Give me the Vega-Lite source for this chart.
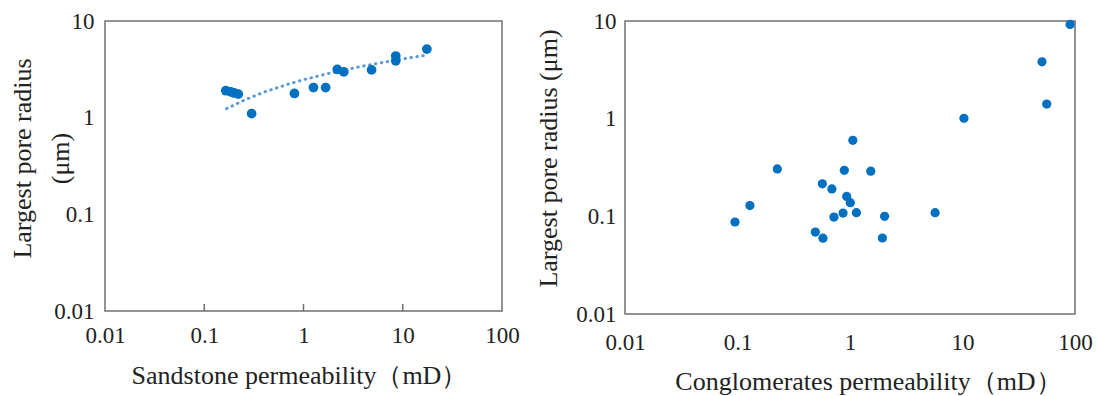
{
  "$schema": "https://vega.github.io/schema/vega-lite/v6.json",
  "background": "white",
  "padding": {"left": 9, "top": 9, "right": 0, "bottom": 0},
  "spacing": 14,
  "config": {
    "view": {"stroke": "#707070", "strokeWidth": 1.5},
    "axis": {
      "grid": false, "domain": false, "ticks": false,
      "labelFont": "'Liberation Serif', 'Times New Roman', 'DejaVu Serif', serif", "labelFontSize": 23, "labelColor": "#222",
      "titleFont": "'Liberation Serif', 'Times New Roman', 'DejaVu Serif', serif", "titleFontSize": 26, "titleFontWeight": "normal", "titleColor": "#222",
      "labelFlush": false, "labelOverlap": false
    }
  },
  "datasets": {
    "sandstone": [
      {"permeability": 0.165, "radius": 1.9},
      {"permeability": 0.185, "radius": 1.85},
      {"permeability": 0.2, "radius": 1.8},
      {"permeability": 0.22, "radius": 1.75},
      {"permeability": 0.3, "radius": 1.1},
      {"permeability": 0.81, "radius": 1.78},
      {"permeability": 1.26, "radius": 2.05},
      {"permeability": 1.67, "radius": 2.05},
      {"permeability": 2.19, "radius": 3.15},
      {"permeability": 2.55, "radius": 2.98},
      {"permeability": 4.85, "radius": 3.12},
      {"permeability": 8.5, "radius": 4.34},
      {"permeability": 8.5, "radius": 3.87},
      {"permeability": 17.5, "radius": 5.12}
    ],
    "sandstone_trend": [
      {"permeability": 0.168, "radius": 1.24},
      {"permeability": 0.25, "radius": 1.51},
      {"permeability": 0.4, "radius": 1.84},
      {"permeability": 0.7, "radius": 2.22},
      {"permeability": 1, "radius": 2.47},
      {"permeability": 2, "radius": 2.95},
      {"permeability": 4, "radius": 3.42},
      {"permeability": 8, "radius": 3.9},
      {"permeability": 12, "radius": 4.18},
      {"permeability": 17.5, "radius": 4.44}
    ],
    "x_ticks": [
      {"permeability": 0.1},
      {"permeability": 1},
      {"permeability": 10}
    ],
    "conglomerates": [
      {"permeability": 90.4, "radius": 9.23},
      {"permeability": 50.9, "radius": 3.82},
      {"permeability": 56.1, "radius": 1.41},
      {"permeability": 10.3, "radius": 1.01},
      {"permeability": 1.06, "radius": 0.6},
      {"permeability": 0.226, "radius": 0.306},
      {"permeability": 0.89, "radius": 0.296},
      {"permeability": 1.53, "radius": 0.29},
      {"permeability": 0.568, "radius": 0.215},
      {"permeability": 0.69, "radius": 0.191},
      {"permeability": 0.935, "radius": 0.16},
      {"permeability": 1.006, "radius": 0.138},
      {"permeability": 0.129, "radius": 0.129},
      {"permeability": 0.095, "radius": 0.0875},
      {"permeability": 0.72, "radius": 0.0984},
      {"permeability": 0.867, "radius": 0.108},
      {"permeability": 1.14, "radius": 0.109},
      {"permeability": 2.03, "radius": 0.1},
      {"permeability": 5.71, "radius": 0.109},
      {"permeability": 0.492, "radius": 0.069},
      {"permeability": 0.575, "radius": 0.0597},
      {"permeability": 1.94, "radius": 0.06}
    ]
  },
  "hconcat": [
    {
      "width": 397,
      "height": 290,
      "encoding": {
        "x": {
          "field": "permeability", "type": "quantitative",
          "scale": {"type": "log", "domain": [0.01, 100], "nice": false},
          "axis": {
            "values": [0.01, 0.1, 1, 10, 100], "format": "~g",
            "title": "Sandstone permeability（mD）",
            "labelPadding": 13, "titlePadding": 15, "titleX": 194
          }
        }
      },
      "layer": [
        {
          "data": {"name": "x_ticks"},
          "mark": {"type": "rule", "color": "#707070", "strokeWidth": 1.5},
          "encoding": {
            "y": {"datum": 0.01, "type": "quantitative", "scale": {"type": "log", "domain": [0.01, 10], "nice": false}},
            "y2": {"datum": 0.0118}
          }
        },
        {
          "data": {"name": "sandstone_trend"},
          "mark": {"type": "line", "color": "#5B9BD5", "strokeWidth": 3, "strokeDash": [0.5, 5.5], "strokeCap": "round"},
          "encoding": {
            "y": {"field": "radius", "type": "quantitative"}
          }
        },
        {
          "data": {"name": "sandstone"},
          "mark": {"type": "circle", "size": 95, "color": "#0070C0", "opacity": 1},
          "encoding": {
            "y": {
              "field": "radius", "type": "quantitative",
              "scale": {"type": "log", "domain": [0.01, 10], "nice": false},
              "axis": {
                "values": [0.01, 0.1, 1, 10], "format": "~g",
                "title": ["Largest pore radius", "(μm)"],
                "titleLineHeight": 38, "titlePadding": -20, "titleY": 137,
                "labelPadding": 11
              }
            }
          }
        }
      ]
    },
    {
      "width": 450,
      "height": 293,
      "data": {"name": "conglomerates"},
      "mark": {"type": "circle", "size": 85, "color": "#0070C0", "opacity": 1},
      "encoding": {
        "x": {
          "field": "permeability", "type": "quantitative",
          "scale": {"type": "log", "domain": [0.01, 100], "nice": false},
          "axis": {
            "values": [0.01, 0.1, 1, 10, 100], "format": "~g",
            "title": "Conglomerates permeability（mD）",
            "labelPadding": 17, "titlePadding": 14, "titleX": 243
          }
        },
        "y": {
          "field": "radius", "type": "quantitative",
          "scale": {"type": "log", "domain": [0.01, 10], "nice": false},
          "axis": {
            "values": [0.01, 0.1, 1, 10], "format": "~g",
            "title": "Largest pore radius (μm)",
            "titlePadding": 14, "titleY": 137,
            "labelPadding": 9
          }
        }
      }
    }
  ]
}
